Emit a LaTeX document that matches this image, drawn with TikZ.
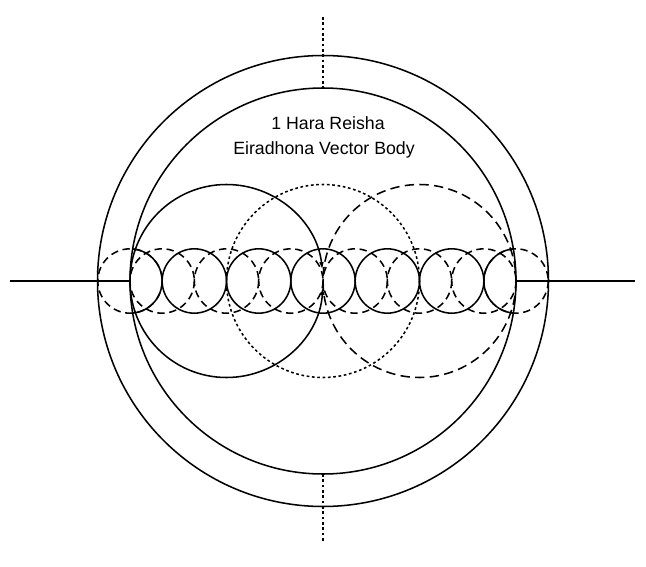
\documentclass[tikz,border=0pt]{standalone}
\usepackage{fontspec}
\setmainfont{Liberation Sans}
\usetikzlibrary{arrows.meta,calc}
\begin{document}
\begin{tikzpicture}[x=0.75pt,y=-0.75pt, line width=1.15pt,
  smalldash/.style={dash pattern=on 5.5pt off 3.5pt},
  bigdash/.style={dash pattern=on 7pt off 4pt},
  dotline/.style={dash pattern=on 2pt off 2pt},
  tip/.style={-{Latex[length=6pt,width=3.5pt]}},
  lbl/.style={font=\fontsize{13.3}{16}\selectfont, inner sep=0pt}]
\useasboundingbox (0,0) rectangle (646,567);
\def\Ro{225.5}
\def\Ri{193}
\def\rs{32.17}
\def\rb{96.5}
\coordinate (C) at (323,281);
\coordinate (B) at (226.5,281);
\coordinate (D) at (419.5,281);
\coordinate (L1) at (10,281);
\coordinate (L2) at (130,281);
\coordinate (R1) at (516,281);
\coordinate (R2) at (635,281);
\coordinate (T1) at (323,17);
\coordinate (T2) at (323,88);
\coordinate (U1) at (323,474);
\coordinate (U2) at (323,543);
% small dashed circles
\foreach \k in {-6,-5,-3,-1,1,3,5,6}
  \draw[smalldash] ($(C)+(\k*\rs,0)$) circle[radius=\rs];
% small solid circles, clipped to inner circle
\begin{scope}
  \clip (C) circle[radius=\Ri];
  \foreach \k in {-3,...,3}
    \draw ($(C)+(\k*2*\rs,0)$) circle[radius=\rs];
\end{scope}
% big circles
\draw[dotline] (C) circle[radius=\rb];
\draw[bigdash] (D) circle[radius=\rb];
\draw[tip] (L2) arc[start angle=180, end angle=353.5, radius=\rb];
\draw[tip] (L2) arc[start angle=180, end angle=3.5, radius=\rb];
% outer circles
\draw (C) circle[radius=\Ro];
\draw (C) circle[radius=\Ri];
% axes
\draw (L1) -- (L2);
\draw (R1) -- (R2);
\draw[dotline] (T1) -- (T2);
\draw[dotline] (U1) -- (U2);
% labels
\node[lbl] (t1) at (328,123) {1 Hara Reisha};
\node[lbl] (t2) at (324,150) {Eiradhona Vector Body};
\end{tikzpicture}
\end{document}
